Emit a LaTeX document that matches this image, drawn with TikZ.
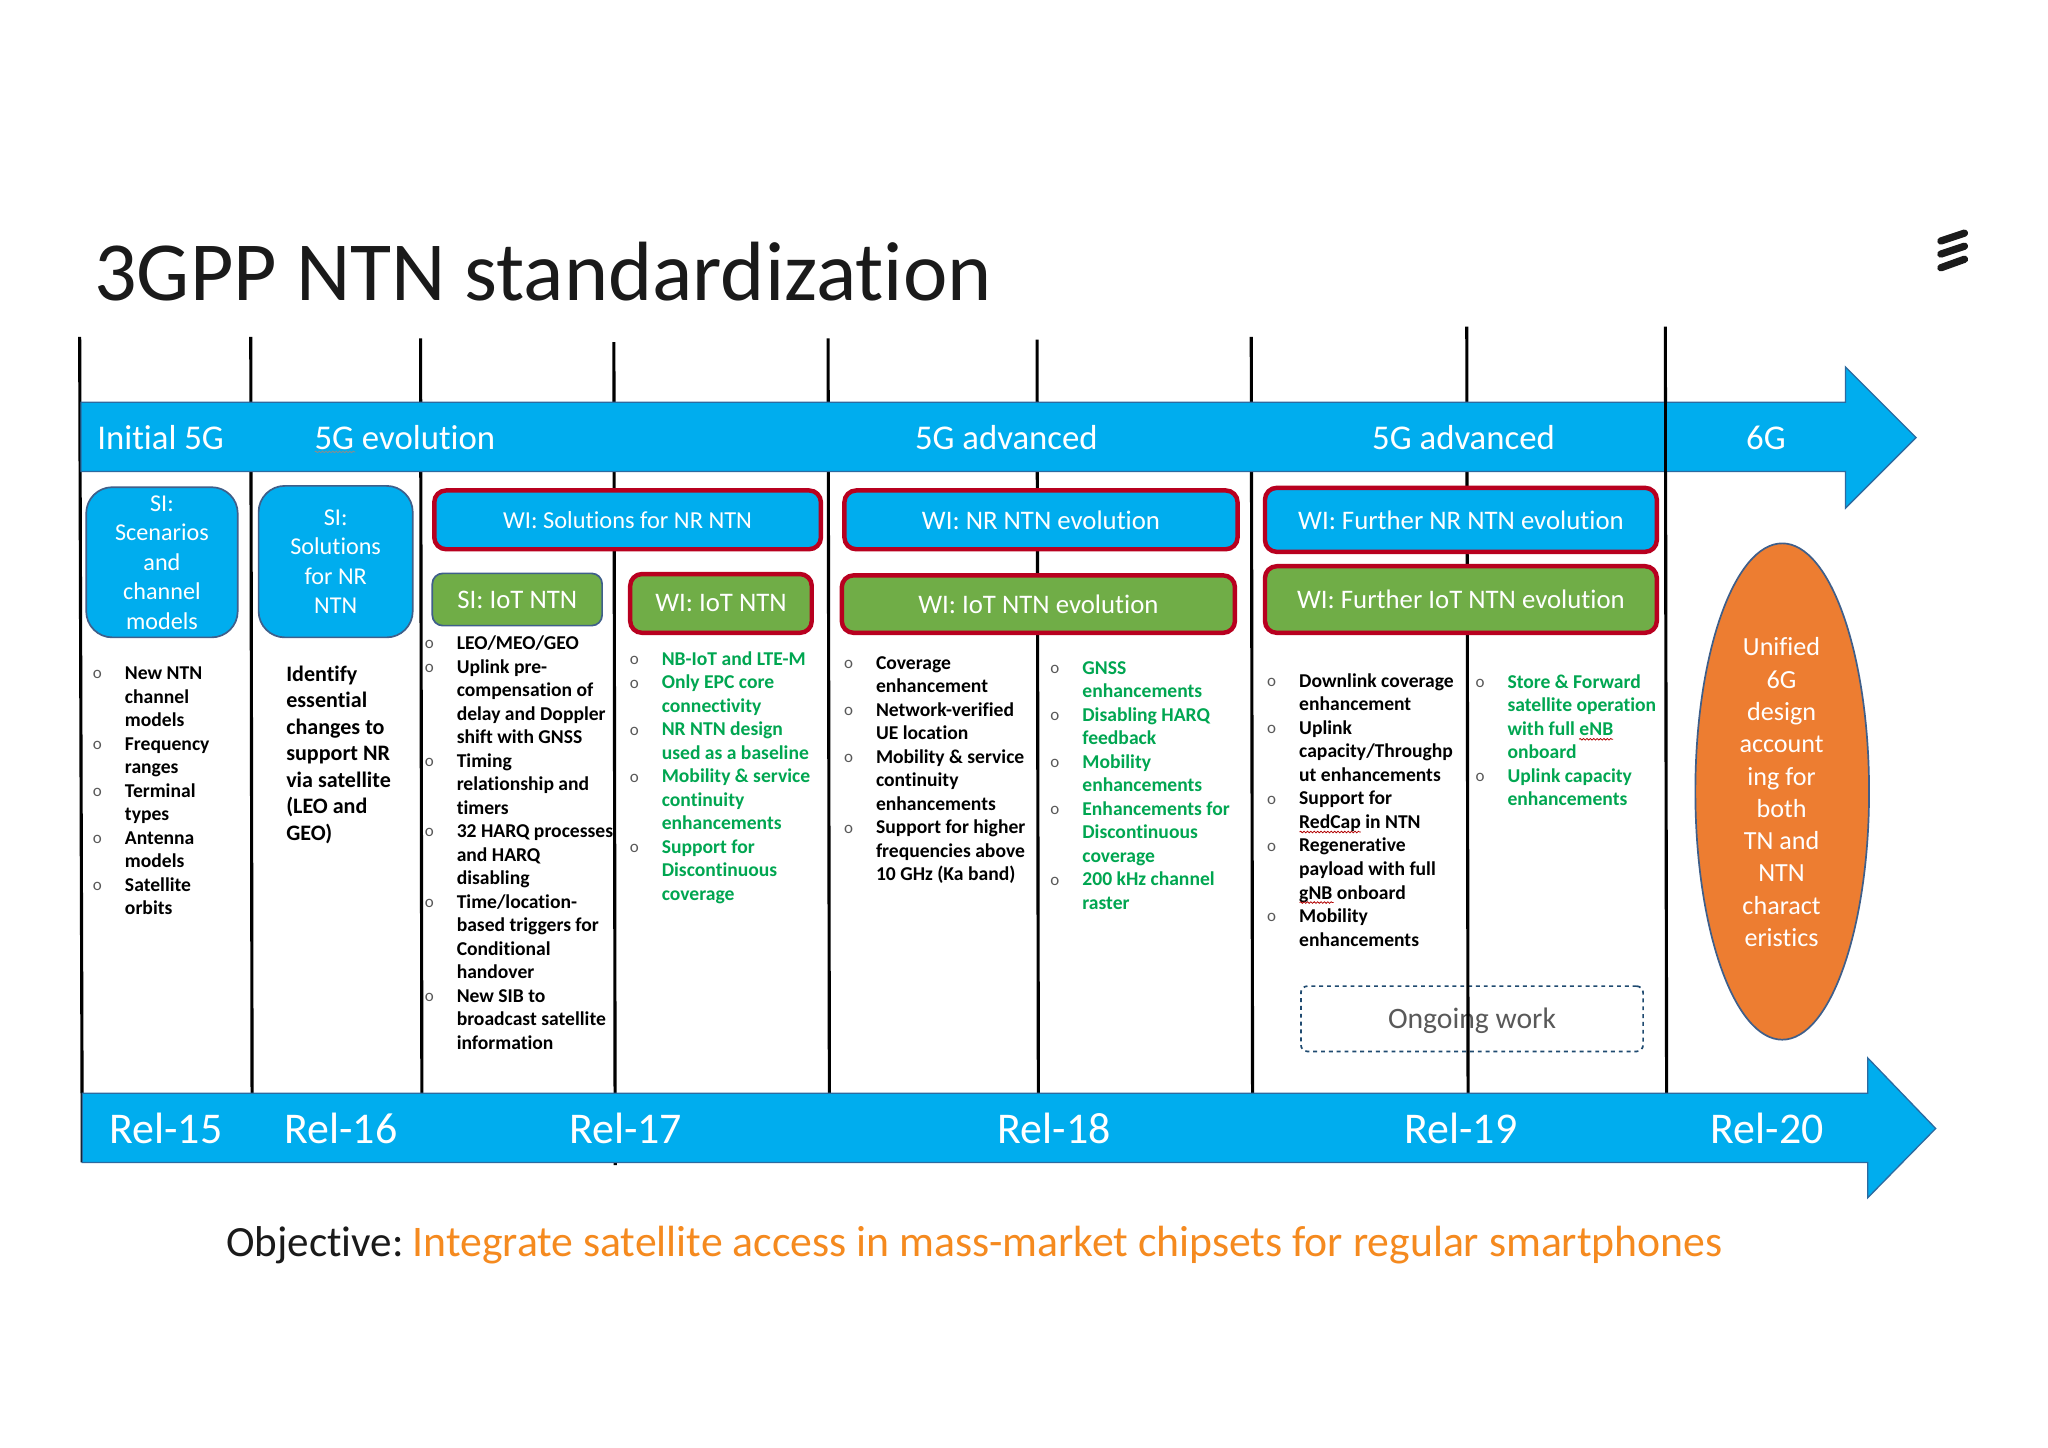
\documentclass[tikz,border=0pt]{standalone}
\usepackage{fontspec}
\setmainfont[Ligatures=NoCommon]{Carlito}
\usetikzlibrary{decorations.pathmorphing,shapes.geometric}
\definecolor{bandblue}{HTML}{00ADEE}
\definecolor{edgeblue}{HTML}{2C6AA0}
\definecolor{ovaledge}{HTML}{3F5F8A}
\definecolor{wired}{HTML}{B8001F}
\definecolor{leaf}{HTML}{70AD47}
\definecolor{orangefill}{HTML}{ED7D31}
\definecolor{listgreen}{HTML}{00A651}
\definecolor{objorange}{HTML}{F58A1F}
\definecolor{inkblack}{HTML}{1A1A1A}
\newcommand{\bu}{\strut\makebox[24.5pt][l]{\raisebox{0.5pt}{\fontsize{13}{13}\mdseries\selectfont\textcolor{black!65}{o}}}}
\newcommand{\nb}{\strut\hspace*{24.5pt}}
\tikzset{
 x=1pt,y=-1pt,
 rule/.style={line width=2.4pt,black},
 band/.style={fill=bandblue,draw=edgeblue,line width=1pt,line join=miter},
 bandtext/.style={text=white,font=\fontsize{26.6}{26.6}\selectfont,inner sep=0pt,anchor=center},
 reltext/.style={text=white,font=\fontsize{33.6}{33.6}\selectfont,inner sep=0pt,anchor=center},
 si/.style={fill=bandblue,draw=ovaledge,line width=1.3pt,rounded corners=20pt,text=white,inner sep=0pt,align=center,font=\fontsize{18.5}{22.6}\selectfont},
 wi/.style={fill=bandblue,draw=wired,line width=3.4pt,rounded corners=9pt,text=white,inner sep=0pt,align=center,font=\fontsize{20.5}{21}\selectfont},
 wig/.style={wi,fill=leaf},
 sig/.style={fill=leaf,draw=ovaledge,line width=1.3pt,rounded corners=8pt,text=white,inner sep=0pt,align=center,font=\fontsize{20.5}{21}\selectfont},
 listb/.style={anchor=north west,inner sep=0pt,align=left,black,font=\fontsize{15}{18}\bfseries\selectfont},
 listg/.style={listb,text=listgreen},
 squig/.style={draw=#1,line width=0.6pt,decorate,decoration={snake,amplitude=0.6pt,segment length=2.6pt}},
}
\begin{document}
\begin{tikzpicture}
\useasboundingbox (0,0) rectangle (1568,1108.6);
\fill[white] (0,0) rectangle (1568,1108.6);

% title
\node[anchor=west,inner sep=0pt,text=inkblack,font=\fontsize{64.4}{66}\selectfont] (title) at (72,208) {3GPP NTN standardization};
% logo
\draw[inkblack,line width=5.6pt,line cap=round] (1486,184.5) -- (1504,178.5) (1486,194.5) -- (1504,188.5) (1486,205) -- (1504,198.5);

% ongoing work (under the rule)
\node[draw=edgeblue!70!black,dashed,line width=1.3pt,rounded corners=5pt,minimum width=262pt,minimum height=50pt,inner sep=0pt,text=black!65,font=\fontsize{22.7}{22.7}\selectfont] (ongoing) at (1127,780) {\raisebox{-7.5pt}[0pt][0pt]{Ongoing work}};

% vertical rules
\coordinate (t1) at (61,258); \coordinate (b1) at (63,890);
\coordinate (t2) at (192,258); \coordinate (b2) at (193,840);
\coordinate (t3) at (322,259); \coordinate (b3) at (323,840);
\coordinate (t4) at (470,262); \coordinate (b4) at (471,892);
\coordinate (t5) at (634,259); \coordinate (b5) at (635,840);
\coordinate (t6) at (794,260); \coordinate (b6) at (795,840);
\coordinate (t7) at (958,258); \coordinate (b7) at (959,840);
\coordinate (t8) at (1123,250); \coordinate (b8) at (1124,840);
\coordinate (t9) at (1275,250); \coordinate (b9) at (1276,840);
\foreach \i in {1,...,9} \draw[rule] (t\i) -- (b\i);

% bands
\draw[band] (62,308) -- (1413,308) -- (1413,281) -- (1467,335) -- (1413,389) -- (1413,361) -- (62,361) -- cycle;
\draw[band] (63,837) -- (1430,837) -- (1430,810) -- (1482,864) -- (1430,917) -- (1430,890) -- (63,890) -- cycle;
\draw[line width=1.8pt,black] (1275,306) -- (1275,362);

\node[bandtext] (b5g1) at (123,335) {Initial 5G};
\node[bandtext] (b5g2) at (310,335) {5G evolution};
\node[bandtext] (b5g3) at (770.5,335) {5G advanced};
\node[bandtext] (b5g4) at (1120.5,335) {5G advanced};
\node[bandtext] (b6g) at (1352,335) {6G};
\draw[squig=black!45] (241,346) -- (272,346);

\node[reltext] (r15) at (127,864) {Rel-15};
\node[reltext] (r16) at (261,864) {Rel-16};
\node[reltext] (r17) at (479,864) {Rel-17};
\node[reltext] (r18) at (807,864) {Rel-18};
\node[reltext] (r19) at (1118.5,864) {Rel-19};
\node[reltext] (r20) at (1353,864) {Rel-20};

% SI / WI boxes
\node[si,minimum width=116pt,minimum height=115pt] (s1) at (124,430.5) {SI:\\Scenarios\\and\\channel\\models};
\node[si,minimum width=118pt,minimum height=116pt] (s2) at (257,430) {SI:\\Solutions\\for NR\\NTN};
\node[wi,minimum width=296pt,minimum height=45pt,font=\fontsize{18.7}{21}\selectfont] (w1) at (480.5,398) {WI: Solutions for NR NTN};
\node[sig,minimum width=130pt,minimum height=40pt] (s3) at (396,459) {SI: IoT NTN};
\node[wig,minimum width=139pt,minimum height=45pt] (w2) at (552,462) {WI: IoT NTN};
\node[wi,minimum width=301pt,minimum height=45pt] (w3) at (797,398) {WI: NR NTN evolution};
\node[wig,minimum width=301pt,minimum height=44pt] (w4) at (795,462.5) {WI: IoT NTN evolution};
\node[wi,minimum width=300pt,minimum height=49pt] (w5) at (1118.5,398) {WI: Further NR NTN evolution};
\node[wig,minimum width=300pt,minimum height=51pt] (w6) at (1118.5,459) {WI: Further IoT NTN evolution};
\node[ellipse,draw=ovaledge,fill=orangefill,line width=1.3pt,minimum width=133pt,minimum height=380pt,inner sep=0pt] (oval) at (1364.5,606) {};
\node[text=white,align=center,inner sep=0pt,font=\fontsize{20}{24.7}\selectfont] (ovaltext) at (1364,606.5) {Unified\\6G\\design\\account\\ing for\\both\\TN and\\NTN\\charact\\eristics};

% lists
\node[listb] (l1) at (71,507.5) {\bu New NTN\\\nb channel\\\nb models\\\bu Frequency\\\nb ranges\\\bu Terminal\\\nb types\\\bu Antenna\\\nb models\\\bu Satellite\\\nb orbits};
\node[anchor=north west,inner sep=0pt,align=left,font=\fontsize{16.9}{20.3}\bfseries\selectfont] (l2) at (219,507) {\strut Identify\\essential\\changes to\\support NR\\via satellite\\(LEO and\\GEO)};
\node[listb] (l3) at (325,484.5) {\bu LEO/MEO/GEO\\\bu Uplink pre-\\\nb compensation of\\\nb delay and Doppler\\\nb shift with GNSS\\\bu Timing\\\nb relationship and\\\nb timers\\\bu 32 HARQ processes\\\nb and HARQ\\\nb disabling\\\bu Time/location-\\\nb based triggers for\\\nb Conditional\\\nb handover\\\bu New SIB to\\\nb broadcast satellite\\\nb information};
\node[listg] (l4) at (482,496.5) {\bu NB-IoT and LTE-M\\\bu Only EPC core\\\nb connectivity\\\bu NR NTN design\\\nb used as a baseline\\\bu Mobility \& service\\\nb continuity\\\nb enhancements\\\bu Support for\\\nb Discontinuous\\\nb coverage};
\node[listb] (l5) at (646,499.5) {\bu Coverage\\\nb enhancement\\\bu Network-verified\\\nb UE location\\\bu Mobility \& service\\\nb continuity\\\nb enhancements\\\bu Support for higher\\\nb frequencies above\\\nb 10 GHz (Ka band)};
\node[listg] (l6) at (804,503.5) {\bu GNSS\\\nb enhancements\\\bu Disabling HARQ\\\nb feedback\\\bu Mobility\\\nb enhancements\\\bu Enhancements for\\\nb Discontinuous\\\nb coverage\\\bu 200 kHz channel\\\nb raster};
\node[listb] (l7) at (970,513.5) {\bu Downlink coverage\\\nb enhancement\\\bu Uplink\\\nb capacity/Throughp\\\nb ut enhancements\\\bu Support for\\\nb RedCap in NTN\\\bu Regenerative\\\nb payload with full\\\nb gNB onboard\\\bu Mobility\\\nb enhancements};
\node[listg] (l8) at (1129.5,514) {\bu Store \& Forward\\\nb satellite operation\\\nb with full eNB\\\nb onboard\\\bu Uplink capacity\\\nb enhancements};

\draw[squig=red!70!black] (995,637) -- (1042,637);
\draw[squig=red!70!black] (995,691) -- (1021,691);
\draw[squig=red!70!black] (1209,566) -- (1235,566);

% objective
\node[anchor=west,inner sep=0pt,font=\fontsize{33}{33}\selectfont] (obj) at (173,953) {\textcolor{inkblack}{Objective:}\hspace{6.8pt}{\fontsize{33.45}{33}\selectfont\textcolor{objorange}{Integrate satellite access in mass-market chipsets for regular smartphones}}};
\end{tikzpicture}
\end{document}
